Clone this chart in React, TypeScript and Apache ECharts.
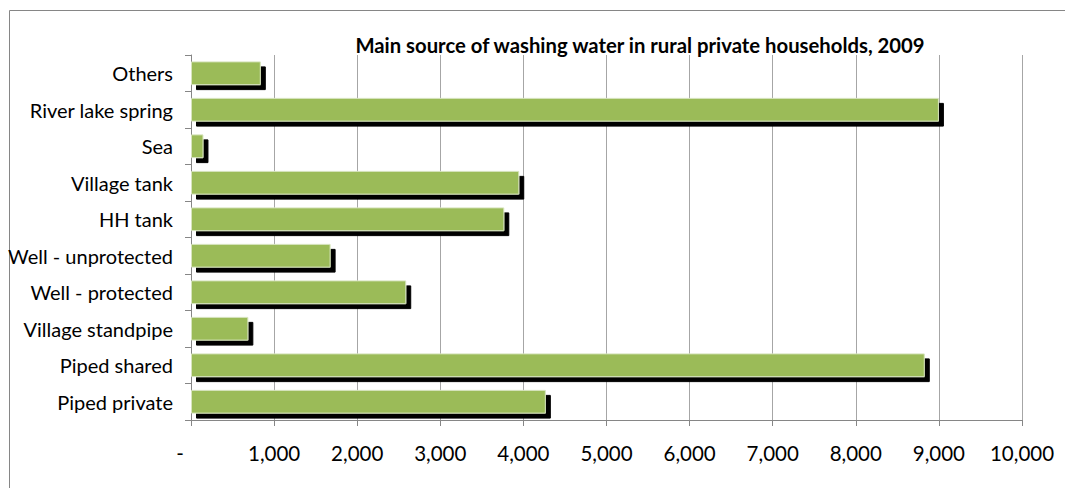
import React, { useEffect, useRef } from "react";
import * as echarts from "echarts";

const categories = [
  "Piped private",
  "Piped shared",
  "Village standpipe",
  "Well - protected",
  "Well - unprotected",
  "HH tank",
  "Village tank",
  "Sea",
  "River lake spring",
  "Others",
];
const households = [4270, 8830, 690, 2590, 1680, 3770, 3950, 150, 9000, 840];
const titleText = "Main source of washing water in rural private households, 2009";

export default function App() {
  const ref = useRef<HTMLDivElement>(null);
  useEffect(() => {
    if (!ref.current) return;
    const chart = echarts.init(ref.current, null, { renderer: "svg" });
    const font = "Lato";
    chart.setOption({
      animation: false,
      backgroundColor: "#ffffff",
      title: {
        text: titleText,
        left: 635,
        top: 30,
        textAlign: "center",
        textStyle: { fontFamily: font, fontWeight: "bold", fontSize: 20.3, color: "#000" },
      },
      graphic: [
        {
          type: "rect",
          shape: { x: 9.5, y: 10.5, width: 1080, height: 520 },
          style: { fill: "none", stroke: "#868686", lineWidth: 1 },
          silent: true,
        },
      ],
      grid: { left: 191, right: 43, top: 55, bottom: 68, containLabel: false },
      xAxis: {
        type: "value",
        min: 0,
        max: 10000,
        interval: 1000,
        axisLine: { show: true, lineStyle: { color: "#868686" } },
        axisTick: { show: true, length: 6, lineStyle: { color: "#868686" } },
        splitLine: { show: true, lineStyle: { color: "#a6a6a6" } },
        axisLabel: {
          margin: 22,
          fontFamily: font,
          fontSize: 20.5,
          color: "#000",
          formatter: (v: number) => (v === 0 ? "{d|-}" : v.toLocaleString("en-US")),
          rich: { d: { fontFamily: font, fontSize: 20.5, color: "#000", padding: [0, 22, 0, 0] } },
        },
      },
      yAxis: {
        type: "category",
        data: categories,
        axisLine: { show: true, lineStyle: { color: "#868686" } },
        axisTick: { show: true, length: 6, lineStyle: { color: "#868686" } },
        splitLine: { show: false },
        axisLabel: { margin: 18, fontFamily: font, fontSize: 20, color: "#000" },
      },
      series: [
        {
          type: "bar",
          data: households,
          barWidth: "65%",
          itemStyle: {
            color: "#9BBB59",
            borderColor: "#D7E4BD",
            borderWidth: 1,
            shadowColor: "#000",
            shadowBlur: 0,
            shadowOffsetX: 5,
            shadowOffsetY: 5,
          },
        },
      ],
    });
    return () => chart.dispose();
  }, []);
  return (
    <div
      ref={ref}
      style={{ position: "fixed", left: 0, top: 0, width: 1065, height: 488 }}
    />
  );
}
